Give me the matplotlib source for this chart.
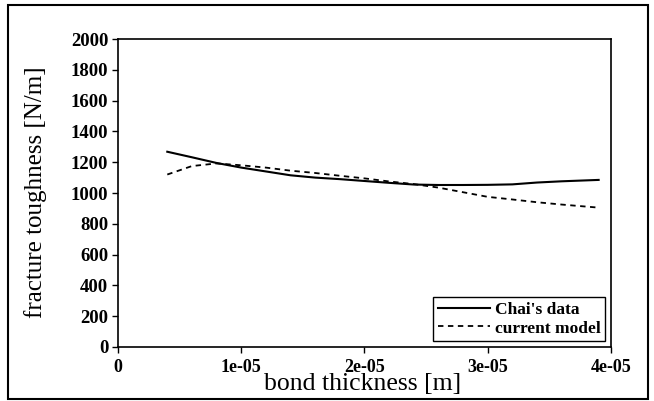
import matplotlib
matplotlib.use('Agg')
import matplotlib.pyplot as plt
from matplotlib.patches import Rectangle

# bond thickness in metres
thickness = [4e-6, 6e-6, 8e-6, 10e-6, 12e-6, 14e-6, 16e-6, 18e-6, 20e-6,
             22e-6, 24e-6, 26e-6, 28e-6, 30e-6, 32e-6, 34e-6, 36e-6, 39e-6]
chai_data = [1268, 1232, 1195, 1165, 1140, 1115, 1100, 1090, 1078,
             1066, 1055, 1052, 1052, 1053, 1056, 1068, 1076, 1085]
current_model = [1120, 1175, 1192, 1180, 1165, 1145, 1130, 1112, 1095,
                 1075, 1058, 1035, 1005, 975, 958, 940, 925, 905]

x_ticks = [0, 1e-5, 2e-5, 3e-5, 4e-5]
x_tick_labels = ['0', '1e-05', '2e-05', '3e-05', '4e-05']
y_ticks = list(range(0, 2001, 200))

plt.rcParams['font.family'] = ['Liberation Serif', 'DejaVu Serif']

fig = plt.figure(figsize=(6.54, 4.01), dpi=100)
ax = fig.add_axes([0.1804, 0.1347, 0.7538, 0.768])

# outer frame around whole figure
fig.patches.append(Rectangle((0.0122, 0.005), 0.9786, 0.9825, transform=fig.transFigure,
                             fill=False, edgecolor='black', linewidth=1.5))

ax.plot(thickness, chai_data, color='black', linewidth=1.5, label="Chai's data")
ax.plot(thickness, current_model, color='black', linewidth=1.3,
        dashes=(3, 2.5), label='current model')

ax.set_xlim(0, 4e-5)
ax.set_ylim(0, 2000)
ax.set_xticks(x_ticks)
ax.set_xticklabels(x_tick_labels, fontweight='bold', fontsize=13)
ax.set_yticks(y_ticks)
ax.set_yticklabels([str(v) for v in y_ticks], fontweight='bold', fontsize=13.5)
ax.tick_params(axis='both', direction='out', length=4, width=1, pad=3)
ax.tick_params(axis='x', pad=5)

for s in ax.spines.values():
    s.set_linewidth(1.2)

fig.text(0.555, 0.027, 'bond thickness [m]', fontsize=18.5, ha='center', va='baseline')
fig.text(0.054, 0.52, 'fracture toughness [N/m]', fontsize=18, ha='center',
         va='center', rotation=90)

leg = ax.legend(loc='lower right', prop={'weight': 'bold', 'size': 12.5},
                fancybox=False, framealpha=1, edgecolor='black',
                handlelength=3.0, borderpad=0.25, labelspacing=0.15,
                handletextpad=0.3, borderaxespad=0.35)
leg.get_frame().set_linewidth(1)

fig.savefig('out.png', dpi=100)
